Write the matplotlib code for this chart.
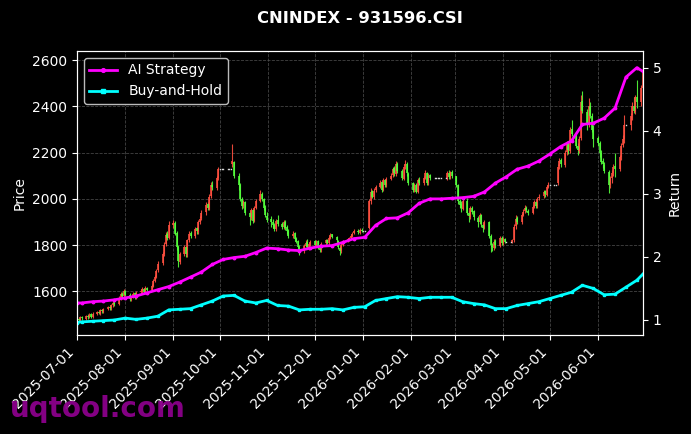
import matplotlib
matplotlib.use("Agg")
import matplotlib.pyplot as plt
import matplotlib.dates as mdates
import pandas as pd
import numpy as np

title = "CNINDEX - 931596.CSI"

# ---------------- daily OHLC (weekdays 2025-07-01 .. 2026-06-30) ----------------
opens = [
    # Jul
    1472, 1482, 1477, 1489, 1482, 1495, 1488, 1500, 1490, 1502, 1512, 1504, 1520, 1512, 1525, 1532, 1526, 1540, 1550, 1545, 1570, 1590, 1579,
    # Aug
    1602, 1586, 1565, 1576, 1591, 1571, 1595, 1601, 1611, 1595, 1616, 1604, 1623, 1646, 1663, 1692, 1722, 1762, 1803, 1848, 1832,
    # Sep
    1888, 1897, 1852, 1792, 1728, 1762, 1792, 1758, 1822, 1852, 1838, 1872, 1858, 1902, 1917, 1942, 1977, 1958, 2012, 2062, 2048, 2092,
    # Oct
    2130, 2130, 2130, 2130, 2130, 2130, 2150, 2160, 2098, 2062, 1998, 1968, 1987, 1938, 1918, 1952, 1903, 1962, 1992, 2022, 1998, 1962, 1928,
    # Nov
    1912, 1902, 1887, 1868, 1907, 1892, 1878, 1902, 1877, 1862, 1838, 1852, 1827, 1817, 1792, 1773, 1797, 1812, 1788, 1803,
    # Dec
    1817, 1798, 1817, 1788, 1778, 1807, 1822, 1808, 1832, 1847, 1833, 1818, 1788, 1773, 1802, 1817, 1823, 1832, 1838, 1852, 1862, 1853, 1867,
    # Jan
    1860, 1860, 1875, 1992, 2032, 2008, 2037, 2052, 2072, 2038, 2082, 2058, 2087, 2102, 2132, 2108, 2152, 2122, 2088, 2142, 2152, 2108,
    # Feb
    2068, 2038, 2062, 2028, 2082, 2068, 2092, 2112, 2068, 2102, 2090, 2090, 2090, 2090, 2090, 2090, 2088, 2112, 2093, 2117,
    # Mar
    2098, 2058, 1992, 1977, 1958, 1992, 1938, 1923, 1962, 1947, 1918, 1898, 1932, 1888, 1873, 1902, 1838, 1798, 1788, 1817, 1798, 1832,
    # Apr
    1808, 1827, 1815, 1815, 1812, 1822, 1882, 1917, 1898, 1932, 1947, 1962, 1948, 1938, 1967, 1987, 1968, 2002, 2012, 2032, 2018, 2052,
    # May
    2060, 2060, 2060, 2070, 2142, 2167, 2148, 2202, 2242, 2208, 2302, 2282, 2228, 2208, 2262, 2422, 2378, 2318, 2402, 2358, 2298,
    # Jun
    2262, 2242, 2198, 2162, 2148, 2118, 2058, 2092, 2112, 2142, 2128, 2182, 2232, 2258, 2320, 2318, 2362, 2402, 2378, 2442, 2418, 2482,
]
highs = [
    1486, 1487, 1494, 1493, 1499, 1500, 1505, 1506, 1509, 1517, 1516, 1524, 1525, 1530, 1538, 1539, 1547, 1556, 1556, 1578, 1596, 1595, 1612,
    1606, 1592, 1580, 1596, 1597, 1600, 1608, 1618, 1616, 1622, 1620, 1630, 1652, 1670, 1698, 1730, 1770, 1815, 1858, 1862, 1905,
    1910, 1905, 1860, 1800, 1770, 1802, 1798, 1828, 1862, 1860, 1880, 1878, 1908, 1925, 1950, 1988, 1985, 2020, 2075, 2078, 2100, 2140,
    2130, 2130, 2130, 2130, 2130, 2130, 2237, 2165, 2110, 2070, 2010, 1995, 1992, 1950, 1962, 1958, 1970, 2000, 2038, 2030, 2005, 1972, 1945,
    1925, 1915, 1895, 1915, 1930, 1900, 1910, 1908, 1885, 1870, 1860, 1858, 1835, 1822, 1800, 1805, 1820, 1825, 1812, 1822,
    1822, 1822, 1824, 1795, 1812, 1828, 1826, 1838, 1852, 1850, 1840, 1822, 1795, 1808, 1822, 1832, 1836, 1846, 1856, 1868, 1870, 1872, 1873,
    1860, 1860, 2000, 2046, 2040, 2045, 2062, 2080, 2078, 2090, 2088, 2095, 2112, 2140, 2142, 2165, 2160, 2130, 2150, 2168, 2160, 2115,
    2075, 2070, 2068, 2090, 2096, 2100, 2125, 2118, 2110, 2108, 2090, 2090, 2090, 2090, 2090, 2090, 2122, 2125, 2122, 2125,
    2100, 2065, 2000, 1990, 2000, 2005, 1948, 1970, 1968, 1950, 1928, 1940, 1936, 1895, 1910, 1905, 1850, 1810, 1825, 1825, 1840, 1840,
    1835, 1832, 1815, 1815, 1826, 1890, 1930, 1925, 1940, 1955, 1972, 1968, 1955, 1975, 1995, 1990, 2010, 2020, 2040, 2040, 2062, 2075,
    2060, 2060, 2060, 2150, 2178, 2176, 2212, 2250, 2252, 2310, 2342, 2290, 2240, 2270, 2450, 2465, 2390, 2436, 2420, 2370, 2320,
    2270, 2250, 2210, 2175, 2160, 2125, 2100, 2125, 2150, 2197, 2190, 2240, 2275, 2363, 2320, 2370, 2420, 2443, 2450, 2515, 2495, 2580,
]
lows = [
    1466, 1470, 1472, 1478, 1478, 1482, 1483, 1486, 1486, 1497, 1500, 1499, 1508, 1508, 1519, 1521, 1520, 1534, 1538, 1540, 1563, 1574, 1573,
    1578, 1556, 1560, 1570, 1566, 1566, 1588, 1594, 1590, 1590, 1600, 1600, 1618, 1640, 1656, 1684, 1714, 1752, 1795, 1820, 1826,
    1875, 1842, 1780, 1706, 1720, 1752, 1748, 1750, 1812, 1832, 1830, 1850, 1850, 1892, 1908, 1932, 1950, 1950, 2002, 2040, 2040, 2082,
    2130, 2130, 2130, 2130, 2130, 2130, 2140, 2090, 2040, 1990, 1955, 1960, 1930, 1887, 1910, 1895, 1898, 1955, 1985, 1990, 1950, 1920, 1900,
    1880, 1875, 1862, 1860, 1882, 1870, 1870, 1866, 1850, 1832, 1830, 1818, 1808, 1782, 1757, 1765, 1790, 1785, 1780, 1795,
    1792, 1792, 1784, 1772, 1770, 1800, 1804, 1802, 1826, 1830, 1815, 1782, 1757, 1768, 1796, 1812, 1818, 1828, 1834, 1846, 1848, 1848, 1855,
    1860, 1860, 1870, 1980, 2002, 2000, 2028, 2045, 2030, 2032, 2050, 2050, 2080, 2095, 2100, 2100, 2112, 2080, 2082, 2130, 2100, 2060,
    2030, 2030, 2024, 2025, 2060, 2060, 2085, 2060, 2060, 2080, 2090, 2090, 2090, 2090, 2090, 2090, 2080, 2088, 2085, 2090,
    2050, 1980, 1960, 1945, 1950, 1930, 1901, 1915, 1935, 1910, 1880, 1890, 1880, 1858, 1868, 1830, 1772, 1776, 1780, 1786, 1790, 1800,
    1800, 1808, 1815, 1815, 1808, 1815, 1870, 1892, 1890, 1925, 1938, 1942, 1930, 1935, 1960, 1962, 1962, 1995, 2005, 2010, 2012, 2045,
    2060, 2060, 2060, 2060, 2130, 2140, 2140, 2190, 2195, 2200, 2270, 2220, 2190, 2200, 2255, 2370, 2300, 2310, 2350, 2290, 2226,
    2230, 2180, 2150, 2133, 2110, 2024, 2045, 2068, 2100, 2096, 2120, 2169, 2225, 2241, 2320, 2300, 2342, 2370, 2368, 2392, 2400, 2450,
]
closes = [
    1480, 1476, 1488, 1484, 1493, 1487, 1499, 1491, 1503, 1511, 1505, 1519, 1513, 1524, 1531, 1527, 1541, 1549, 1544, 1572, 1588, 1580, 1600,
    1585, 1566, 1575, 1590, 1572, 1594, 1600, 1610, 1596, 1615, 1605, 1622, 1645, 1662, 1690, 1720, 1760, 1800, 1845, 1830, 1885,
    1895, 1850, 1790, 1730, 1760, 1790, 1760, 1820, 1850, 1840, 1870, 1860, 1900, 1915, 1940, 1975, 1960, 2010, 2060, 2050, 2090, 2130,
    2130, 2130, 2130, 2130, 2130, 2130, 2165, 2100, 2060, 2000, 1970, 1985, 1940, 1920, 1950, 1905, 1960, 1990, 2020, 2000, 1960, 1930, 1910,
    1900, 1885, 1870, 1905, 1890, 1880, 1900, 1875, 1860, 1840, 1850, 1825, 1815, 1790, 1775, 1795, 1810, 1790, 1805, 1815,
    1800, 1815, 1790, 1780, 1805, 1820, 1810, 1830, 1845, 1835, 1820, 1790, 1775, 1800, 1815, 1825, 1830, 1840, 1850, 1860, 1855, 1865, 1860,
    1860, 1860, 1990, 2030, 2010, 2035, 2050, 2070, 2040, 2080, 2060, 2085, 2100, 2130, 2110, 2150, 2120, 2090, 2140, 2150, 2110, 2070,
    2040, 2060, 2030, 2080, 2070, 2090, 2110, 2070, 2100, 2090, 2090, 2090, 2090, 2090, 2090, 2090, 2110, 2095, 2115, 2100,
    2060, 1990, 1975, 1960, 1990, 1940, 1925, 1960, 1945, 1920, 1900, 1930, 1890, 1875, 1900, 1840, 1800, 1790, 1815, 1800, 1830, 1810,
    1825, 1815, 1815, 1815, 1820, 1880, 1915, 1900, 1930, 1945, 1960, 1950, 1940, 1965, 1985, 1970, 2000, 2010, 2030, 2020, 2050, 2060,
    2060, 2060, 2060, 2140, 2165, 2150, 2200, 2240, 2210, 2300, 2280, 2230, 2210, 2260, 2420, 2380, 2320, 2400, 2360, 2300, 2260,
    2240, 2200, 2160, 2150, 2120, 2060, 2090, 2110, 2140, 2130, 2180, 2230, 2260, 2320, 2320, 2360, 2400, 2380, 2440, 2420, 2480, 2550,
]

# ---------------- weekly returns (Fridays + first/last day) ----------------
ai_strategy = [
    1.27, 1.27, 1.29, 1.30, 1.32, 1.35, 1.38, 1.43, 1.48, 1.53, 1.60, 1.68, 1.76, 1.88,
    1.96, 1.99, 2.01, 2.07, 2.14, 2.13, 2.11, 2.10, 2.14, 2.17, 2.18, 2.23, 2.29, 2.31,
    2.50, 2.61, 2.62, 2.70, 2.85, 2.92, 2.92, 2.93, 2.94, 2.96, 3.03, 3.17, 3.27, 3.39,
    3.44, 3.52, 3.63, 3.75, 3.84, 4.10, 4.12, 4.20, 4.36, 4.85, 5.00, 4.94,
]
buy_and_hold = [
    0.96, 0.97, 0.98, 0.99, 1.00, 1.03, 1.01, 1.03, 1.06, 1.16, 1.17, 1.18, 1.24, 1.30,
    1.38, 1.39, 1.30, 1.27, 1.31, 1.23, 1.22, 1.16, 1.17, 1.17, 1.18, 1.16, 1.20, 1.21,
    1.31, 1.34, 1.37, 1.36, 1.34, 1.36, 1.36, 1.36, 1.29, 1.26, 1.24, 1.18, 1.18, 1.23,
    1.26, 1.29, 1.34, 1.39, 1.44, 1.55, 1.50, 1.40, 1.41, 1.52, 1.63, 1.73,
]

days = pd.bdate_range("2025-07-01", "2026-06-30")
weeks = pd.DatetimeIndex([pd.Timestamp("2025-07-01")]).append(
    pd.date_range("2025-07-04", "2026-06-26", freq="W-FRI")).append(
    pd.DatetimeIndex([pd.Timestamp("2026-06-30")]))

o = np.array(opens, float); h = np.array(highs, float)
l = np.array(lows, float); c = np.array(closes, float)

UP = "#ff5040"
DOWN = "#55ff3c"

plt.rcParams["font.family"] = "DejaVu Sans"
fig = plt.figure(figsize=(6.91, 4.34), dpi=100, facecolor="black")
ax = fig.add_axes([0.1114, 0.2281, 0.8192, 0.6544])
ax.set_facecolor("black")

up = c > o
down = c < o
flat = c == o
x = mdates.date2num(days)
ax.vlines(x[up], l[up], h[up], color=UP, lw=0.8, alpha=0.9)
ax.vlines(x[down], l[down], h[down], color=DOWN, lw=0.8, alpha=0.9)
ax.vlines(x[up], o[up], c[up], color=UP, lw=1.3, alpha=0.9)
ax.vlines(x[down], c[down], o[down], color=DOWN, lw=1.3, alpha=0.9)
ax.plot(x[flat], c[flat], "s", ms=1.0, color="#d8d8d8", mew=0)

ax.set_ylim(1411, 2640)
ax.set_xlim(mdates.date2num(pd.Timestamp("2025-07-01")), mdates.date2num(pd.Timestamp("2026-06-30")))
ax.xaxis.set_major_locator(mdates.MonthLocator())
ax.xaxis.set_major_formatter(mdates.DateFormatter("%Y-%m-%d"))
ax.set_yticks([1600, 1800, 2000, 2200, 2400, 2600])
ax.grid(True, color="#555555", linestyle="--", linewidth=0.6, alpha=0.8)
ax.set_axisbelow(True)
ax.set_ylabel("Price", color="white", fontsize=10)
ax.tick_params(colors="white", labelsize=10)
for lab in ax.get_xticklabels():
    lab.set_rotation(45)
    lab.set_ha("right")
for s in ax.spines.values():
    s.set_color("white")

ax2 = ax.twinx()
ax2.plot(weeks, ai_strategy, color="#ff00ff", lw=2, marker="o", ms=1.8, label="AI Strategy")
ax2.plot(weeks, buy_and_hold, color="#00ffff", lw=2, marker="s", ms=1.8, label="Buy-and-Hold")
ax2.set_ylim(0.762, 5.265)
ax2.set_yticks([1, 2, 3, 4, 5])
ax2.set_ylabel("Return", color="white", fontsize=10)
ax2.tick_params(colors="white", labelsize=10)
for s in ax2.spines.values():
    s.set_color("white")
ax2.set_xlim(ax.get_xlim())

leg = ax2.legend(loc="upper left", facecolor="black", edgecolor="#bbbbbb",
                 labelcolor="white", fontsize=10, framealpha=1, markerscale=1.5)

fig.text(0.521, 0.9585, title, color="white", fontsize=11.8, fontweight="bold",
         ha="center", va="center")
fig.text(0.015, 0.058, "uqtool.com", color="#8b008b", fontsize=20, fontweight="bold",
         ha="left", va="center", alpha=0.95)

fig.savefig("out.png", dpi=100, facecolor="black")
